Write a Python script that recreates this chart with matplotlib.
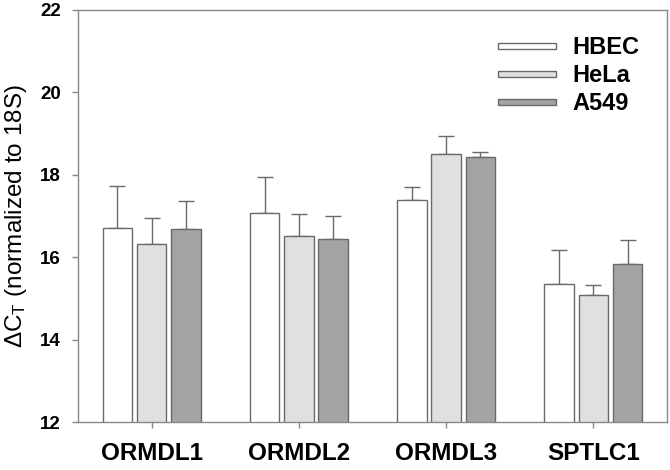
import matplotlib
matplotlib.use("Agg")
import matplotlib.pyplot as plt
import matplotlib.patches as mpatches
from matplotlib.legend_handler import HandlerPatch
import numpy as np

plt.rcParams['font.family'] = ['Liberation Sans', 'DejaVu Sans']

categories = ['ORMDL1', 'ORMDL2', 'ORMDL3', 'SPTLC1']
series = ['HBEC', 'HeLa', 'A549']
hbec = [16.70, 17.07, 17.40, 15.36]
hbec_err = [1.04, 0.88, 0.31, 0.81]
hela = [16.33, 16.51, 18.50, 15.08]
hela_err = [0.61, 0.53, 0.43, 0.24]
a549 = [16.68, 16.44, 18.43, 15.83]
a549_err = [0.68, 0.55, 0.13, 0.59]
yticks = [12, 14, 16, 18, 20, 22]

values = [hbec, hela, a549]
errors = [hbec_err, hela_err, a549_err]
colors = ['#ffffff', '#e0e0e0', '#a3a3a3']
edge = '#6a6a6a'

fig = plt.figure(figsize=(6.7, 4.7), dpi=100)
ax = fig.add_axes([78/670, 1 - 422/470, (667-78)/670, (422-10)/470])

x = np.arange(len(categories))
offsets = [-0.233, 0.0, 0.233]
width = 0.2
containers = []
for vals, errs, col, off, lab in zip(values, errors, colors, offsets, series):
    bc = ax.bar(x + off, vals, width, bottom=0, color=col, edgecolor=edge, linewidth=1.0, label=lab, zorder=2)
    containers.append(bc)
    ax.errorbar(x + off, vals, yerr=[np.zeros(len(errs)), errs], fmt='none',
                ecolor=edge, elinewidth=1.0, capsize=5.5, capthick=1.0, zorder=1)

ax.set_ylim(12, 22)
ax.set_xlim(-0.5, 3.5)
ax.set_yticks(yticks)
ax.set_yticklabels([str(t) for t in yticks], fontsize=13.5, fontweight='bold')
ax.set_xticks(x)
ax.set_xticklabels(categories, fontsize=17.5, fontweight='bold')
ax.tick_params(axis='y', length=4.5, width=1, color='#888888', pad=8, direction='out')
ax.tick_params(axis='x', length=4.5, width=1, color='#888888', pad=10, direction='out')
for s in ax.spines.values():
    s.set_color('#888888')
    s.set_linewidth(1.0)
ax.set_ylabel(r'$\mathregular{\Delta C_T}$ (normalized to 18S)', fontsize=17.5)
ax.yaxis.set_label_coords(-(78 - 29) / 589, 0.5)


def thin_patch(legend, orig_handle, xdescent, ydescent, width, height, fontsize):
    h = 6.0 * 72.0 / fig.dpi
    return mpatches.Rectangle((-xdescent, -ydescent + (height - h) / 2.0), width, h)


handles = [bc.patches[0] for bc in containers]
leg = ax.legend(handles, series, loc='upper right', frameon=False,
                prop={'weight': 'bold', 'size': 17},
                handlelength=2.45, handleheight=0.7, handletextpad=0.7,
                labelspacing=0.2, borderaxespad=0.0,
                bbox_to_anchor=(1 - 18/589, 1 - 17/412),
                handler_map={mpatches.Rectangle: HandlerPatch(patch_func=thin_patch)})

fig.savefig('out.png', dpi=100)
